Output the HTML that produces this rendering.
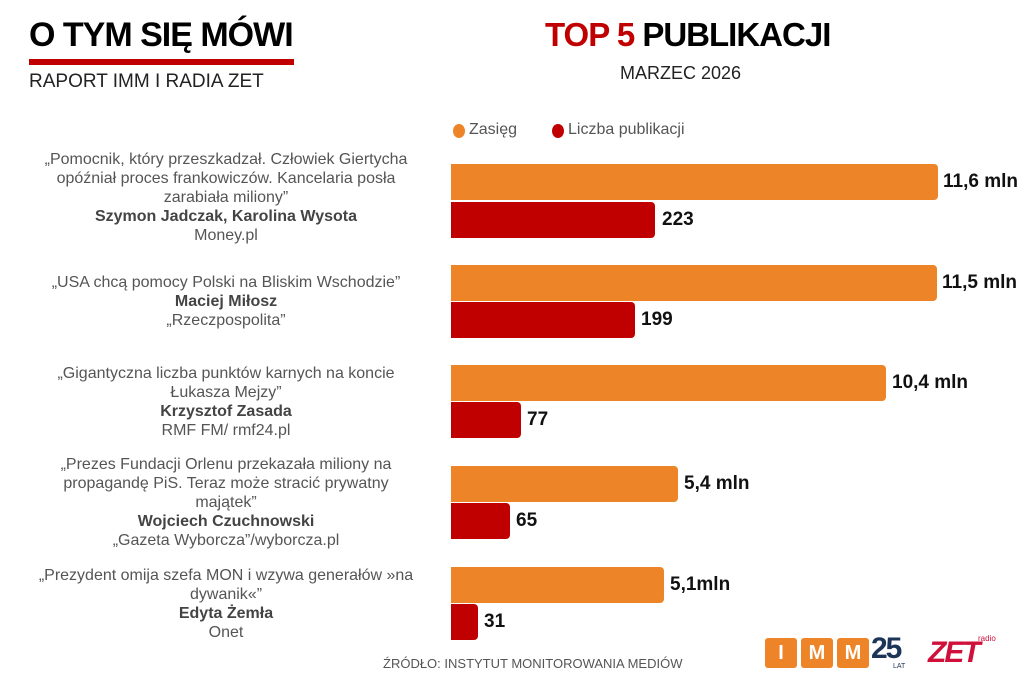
<!DOCTYPE html>
<html><head><meta charset="utf-8"><style>
body{margin:0;width:1024px;height:683px;background:#fff;position:relative;overflow:hidden;font-family:"Liberation Sans",sans-serif}
.a{position:absolute}
.t{position:absolute;left:0;width:452px;text-align:center;color:#555;font-size:16px;line-height:19px}
.t b{color:#444}
.bar{position:absolute;left:451px;height:36px;border-radius:0 4px 4px 0}
.o{background:#ee8428}.r{background:#c00000}
.v{position:absolute;font-weight:bold;font-size:19px;color:#111;line-height:36px}
</style></head><body>
<div class="a" style="left:29px;top:16px;font-size:34px;font-weight:bold;letter-spacing:-1px;color:#000">O TYM SIĘ MÓWI</div>
<div class="a" style="left:29px;top:59px;width:265px;height:6px;background:#c00000"></div>
<div class="a" style="left:29px;top:71px;font-size:19px;color:#222">RAPORT IMM I RADIA ZET</div>
<div class="a" style="left:545px;top:16px;font-size:33px;font-weight:bold;letter-spacing:-1px;color:#000"><span style="color:#c00000">TOP 5</span> PUBLIKACJI</div>
<div class="a" style="left:620px;top:63px;font-size:18px;color:#222">MARZEC 2026</div>
<div class="a" style="left:453px;top:124px;width:12px;height:14px;border-radius:50%;background:#ee8428"></div>
<div class="a" style="left:469px;top:121px;font-size:16px;color:#555">Zasięg</div>
<div class="a" style="left:552px;top:124px;width:12px;height:14px;border-radius:50%;background:#c00000"></div>
<div class="a" style="left:568px;top:121px;font-size:16px;color:#555">Liczba publikacji</div>

<div class="t" style="top:150px">„Pomocnik, który przeszkadzał. Człowiek Giertycha<br>opóźniał proces frankowiczów. Kancelaria posła<br>zarabiała miliony”<br><b>Szymon Jadczak, Karolina Wysota</b><br>Money.pl</div>
<div class="t" style="top:273px">„USA chcą pomocy Polski na Bliskim Wschodzie”<br><b>Maciej Miłosz</b><br>„Rzeczpospolita”</div>
<div class="t" style="top:364px">„Gigantyczna liczba punktów karnych na koncie<br>Łukasza Mejzy”<br><b>Krzysztof Zasada</b><br>RMF FM/ rmf24.pl</div>
<div class="t" style="top:455px">„Prezes Fundacji Orlenu przekazała miliony na<br>propagandę PiS. Teraz może stracić prywatny<br>majątek”<br><b>Wojciech Czuchnowski</b><br>„Gazeta Wyborcza”/wyborcza.pl</div>
<div class="t" style="top:566px">„Prezydent omija szefa MON i wzywa generałów »na<br>dywanik«”<br><b>Edyta Żemła</b><br>Onet</div>

<div class="bar o" style="top:164px;width:487px"></div><div class="v" style="left:943px;top:164px">11,6 mln</div>
<div class="bar r" style="top:202px;width:204px"></div><div class="v" style="left:662px;top:202px">223</div>
<div class="bar o" style="top:265px;width:486px"></div><div class="v" style="left:942px;top:265px">11,5 mln</div>
<div class="bar r" style="top:302px;width:184px"></div><div class="v" style="left:641px;top:302px">199</div>
<div class="bar o" style="top:365px;width:435px"></div><div class="v" style="left:892px;top:365px">10,4 mln</div>
<div class="bar r" style="top:402px;width:70px"></div><div class="v" style="left:527px;top:402px">77</div>
<div class="bar o" style="top:466px;width:227px"></div><div class="v" style="left:684px;top:466px">5,4 mln</div>
<div class="bar r" style="top:503px;width:59px"></div><div class="v" style="left:516px;top:503px">65</div>
<div class="bar o" style="top:567px;width:213px"></div><div class="v" style="left:670px;top:567px">5,1mln</div>
<div class="bar r" style="top:604px;width:27px"></div><div class="v" style="left:484px;top:604px">31</div>

<div class="a" style="left:383px;top:656px;font-size:13px;color:#555">ŹRÓDŁO: INSTYTUT MONITOROWANIA MEDIÓW</div>
<div class="a" style="left:765px;top:638px;width:32px;height:30px;background:#ee8428;border-radius:3px;color:#fff;font-weight:bold;font-size:20px;text-align:center;line-height:30px">I</div>
<div class="a" style="left:801px;top:638px;width:32px;height:30px;background:#ee8428;border-radius:3px;color:#fff;font-weight:bold;font-size:20px;text-align:center;line-height:30px">M</div>
<div class="a" style="left:837px;top:638px;width:32px;height:30px;background:#ee8428;border-radius:3px;color:#fff;font-weight:bold;font-size:20px;text-align:center;line-height:30px">M</div>
<div class="a" style="left:871px;top:632px;font-size:30px;font-weight:bold;color:#1d3557;letter-spacing:-2px">25</div>
<div class="a" style="left:893px;top:663px;font-size:7px;color:#1d3557">LAT</div>
<div class="a" style="left:928px;top:636px;font-size:30px;font-weight:bold;font-style:italic;color:#d0103a;letter-spacing:-2px">ZET</div>
<div class="a" style="left:978px;top:634px;font-size:8px;color:#d0103a">radio</div>
</body></html>
